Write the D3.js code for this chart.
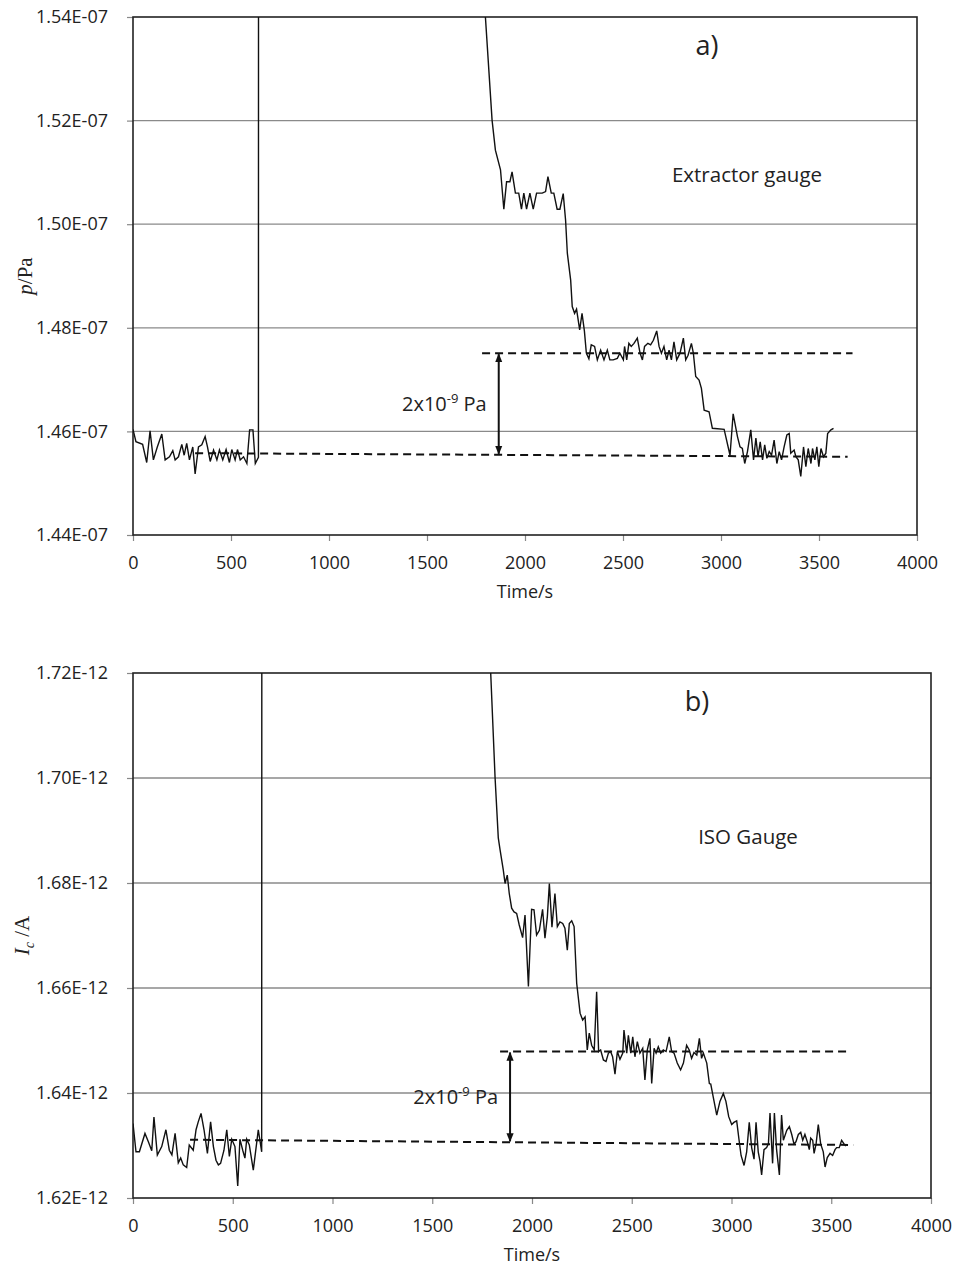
<!DOCTYPE html>
<html>
<head>
<meta charset="utf-8">
<script src="https://cdn.jsdelivr.net/npm/d3@7"></script>
<style>
  body { margin: 0; background: #fff; }
  svg text { font-family: "Open Sans", "Noto Sans", sans-serif; fill: #222; }
  .serif { font-family: "Liberation Serif", "DejaVu Serif", serif; }
</style>
</head>
<body>
<script>
// ---- data ----
// panel a) extractor gauge, pressure in units of 1e-7 Pa
var timeA = [0, 15, 49, 70, 87, 104, 124, 147, 164, 186, 203, 215, 232, 249, 261, 274, 288, 305, 317, 334,
  351, 368, 380, 394, 411, 428, 441, 458, 475, 492, 504, 521, 533, 547, 564, 581, 595, 612, 624, 640, 646,
  1785, 1798, 1832, 1849, 1875, 1892, 1906, 1923, 1934, 1951, 1968, 1982, 1994, 2008, 2025, 2042, 2059, 2071,
  2088, 2105, 2117, 2134, 2147, 2164, 2178, 2195, 2207, 2216, 2233, 2241, 2253, 2263, 2279, 2291, 2303, 2313,
  2326, 2338, 2355, 2369, 2386, 2403, 2420, 2433, 2450, 2471, 2484, 2502, 2508, 2519, 2530, 2542, 2556, 2573,
  2587, 2599, 2610, 2627, 2641, 2655, 2672, 2684, 2696, 2709, 2723, 2735, 2747, 2760, 2774, 2791, 2808, 2820,
  2832, 2849, 2859, 2871, 2888, 2900, 2914, 2939, 2956, 3016, 3046, 3062, 3084, 3097, 3109, 3121, 3135, 3152,
  3166, 3178, 3189, 3200, 3212, 3223, 3234, 3246, 3258, 3271, 3285, 3297, 3309, 3322, 3336, 3348, 3356, 3373,
  3382, 3394, 3407, 3421, 3433, 3445, 3459, 3467, 3479, 3489, 3499, 3510, 3523, 3535, 3544, 3561, 3574];
var pressureA = [1.4604, 1.4580, 1.4575, 1.4540, 1.4601, 1.4545, 1.4570, 1.4595, 1.4545, 1.4551, 1.4563, 1.4545,
  1.4551, 1.4575, 1.4554, 1.4577, 1.4545, 1.4570, 1.4518, 1.4570, 1.4574, 1.4590, 1.4570, 1.4542, 1.4564,
  1.4545, 1.4564, 1.4545, 1.4565, 1.4540, 1.4565, 1.4545, 1.4565, 1.4545, 1.4551, 1.4538, 1.4603, 1.4603,
  1.4538, 1.4550, 3.0,
  3.0, 1.54, 1.5201, 1.5143, 1.5105, 1.5029, 1.5082, 1.5082, 1.5101, 1.5060, 1.5060, 1.5029, 1.5060, 1.5029,
  1.5060, 1.5029, 1.5060, 1.5060, 1.5060, 1.5063, 1.5092, 1.5060, 1.5060, 1.5029, 1.5029, 1.5059, 1.5008,
  1.4944, 1.4892, 1.4841, 1.4828, 1.4836, 1.4796, 1.4828, 1.4794, 1.4751,
  1.4740, 1.4767, 1.4764, 1.4738, 1.4757, 1.4738, 1.4757, 1.4738, 1.4738, 1.4741, 1.4751, 1.4738, 1.4764,
  1.4738, 1.4770, 1.4764, 1.4770, 1.4780, 1.4751, 1.4738, 1.4764, 1.4770, 1.4767, 1.4776, 1.4794, 1.4764,
  1.4751, 1.4764, 1.4738, 1.4757, 1.4738, 1.4773, 1.4738, 1.4751, 1.4780, 1.4738, 1.4747, 1.4770, 1.4751,
  1.4706, 1.4699, 1.4683, 1.4641, 1.4638, 1.4606, 1.4604, 1.4554, 1.4634, 1.4590, 1.4570, 1.4567, 1.4538,
  1.4561, 1.4603, 1.4545, 1.4587, 1.4551, 1.4580, 1.4545, 1.4574, 1.4548, 1.4561, 1.4554, 1.4583, 1.4538,
  1.4561, 1.4545, 1.4570, 1.4593, 1.4596, 1.4558, 1.4564, 1.4551, 1.4545, 1.4513, 1.4570, 1.4532, 1.4567,
  1.4538, 1.4567, 1.4545, 1.4570, 1.4532, 1.4567, 1.4551, 1.4558, 1.4596, 1.4603, 1.4606];

// panel b) ISO gauge collector current, units of 1e-12 A
var timeB = [0, 15, 32, 60, 77, 94, 105, 122, 144, 165, 182, 195, 211, 227, 239, 252, 269, 282, 302, 316, 327,
  341, 356, 373, 389, 403, 416, 428, 439, 456, 470, 483, 495, 511, 525, 536, 550, 561, 570, 583, 603, 628, 645,
  655, 1785, 1793, 1815, 1831, 1840, 1856, 1865, 1876, 1886, 1898, 1910, 1923, 1936, 1953, 1965, 1982, 1998,
  2010, 2023, 2037, 2053, 2065, 2077, 2087, 2100, 2115, 2127, 2140, 2154, 2165, 2177, 2187, 2199, 2211, 2224,
  2241, 2254, 2266, 2277, 2287, 2299, 2312, 2324, 2334, 2344, 2358, 2371, 2383, 2394, 2404, 2416, 2428, 2441,
  2455, 2461, 2475, 2483, 2495, 2505, 2516, 2528, 2541, 2555, 2566, 2578, 2591, 2600, 2612, 2622, 2633, 2645,
  2658, 2672, 2688, 2700, 2712, 2728, 2745, 2759, 2775, 2788, 2800, 2812, 2826, 2839, 2850, 2859, 2876, 2889,
  2896, 2909, 2926, 2942, 2959, 2972, 2986, 3001, 3012, 3026, 3038, 3048, 3063, 3076, 3089, 3101, 3113, 3123,
  3134, 3143, 3151, 3163, 3176, 3185, 3193, 3206, 3215, 3226, 3240, 3251, 3260, 3277, 3290, 3302, 3313, 3323,
  3335, 3347, 3357, 3368, 3380, 3390, 3397, 3407, 3414, 3424, 3435, 3447, 3460, 3469, 3480, 3494, 3507, 3519,
  3527, 3540, 3552, 3564, 3574];
var currentB = [1.6342, 1.6288, 1.6288, 1.6323, 1.6307, 1.6290, 1.6354, 1.6282, 1.6298, 1.6330, 1.6291, 1.6282,
  1.6323, 1.6267, 1.6276, 1.6263, 1.6258, 1.6301, 1.6291, 1.6330, 1.6345, 1.6361, 1.6330, 1.6285, 1.6345,
  1.6298, 1.6272, 1.6263, 1.6266, 1.6291, 1.6330, 1.6279, 1.6312, 1.6298, 1.6223, 1.6312, 1.6291, 1.6276,
  1.6312, 1.6301, 1.6253, 1.6330, 1.6288,
  3.0, 3.0, 1.72, 1.70, 1.6886, 1.6863, 1.6825, 1.6799, 1.6815, 1.6780, 1.6752, 1.6745, 1.6742, 1.6720, 1.6696,
  1.6739, 1.6603, 1.6750, 1.6749, 1.6701, 1.6710, 1.6750, 1.6695, 1.6736, 1.6799, 1.6716, 1.6780, 1.6717,
  1.6726, 1.6723, 1.6714, 1.6672, 1.6723, 1.6728, 1.6717, 1.6609, 1.6552, 1.6539, 1.6545, 1.6482, 1.6514,
  1.6491, 1.6482, 1.6593, 1.6479, 1.6482, 1.6463, 1.6460, 1.6476, 1.6479, 1.6469, 1.6436, 1.6479, 1.6464,
  1.6476, 1.6520, 1.6476, 1.6510, 1.6476, 1.6507, 1.6469, 1.6498, 1.6476, 1.6485, 1.6425, 1.6482, 1.6504,
  1.6418, 1.6485, 1.6476, 1.6488, 1.6476, 1.6482, 1.6479, 1.6507, 1.6479, 1.6476, 1.6457, 1.6444, 1.6457,
  1.6491, 1.6482, 1.6466, 1.6477, 1.6472, 1.6504, 1.6466, 1.6476, 1.6457, 1.6418, 1.6417, 1.6391, 1.6358,
  1.6384, 1.6399, 1.6384, 1.6355, 1.6340, 1.6344, 1.6347, 1.6310, 1.6281, 1.6262, 1.6288, 1.6344, 1.6296,
  1.6274, 1.6344, 1.6288, 1.6270, 1.6244, 1.6292, 1.6296, 1.6303, 1.6362, 1.6266, 1.6362, 1.6292, 1.6244,
  1.6358, 1.6310, 1.6329, 1.6336, 1.6321, 1.6303, 1.6307, 1.6321, 1.6325, 1.6310, 1.6321, 1.6307, 1.6292,
  1.6314, 1.6310, 1.6285, 1.6303, 1.6340, 1.6303, 1.6288, 1.6259, 1.6277, 1.6285, 1.6281, 1.6292, 1.6296,
  1.6296, 1.6310, 1.6303, 1.6299];

// dashed reference levels [time, value] and arrow time
var baseLevelA = [[317, 1.4558], [3646, 1.4551]];
var stepLevelA = [[1781, 1.4751], [3671, 1.4751]];
var arrowTimeA = 1866;
var baseLevelB = [[286, 1.6311], [3610, 1.6301]];
var stepLevelB = [[1840, 1.6479], [3593, 1.6479]];
var arrowTimeB = 1890;

var xTicks = [0, 500, 1000, 1500, 2000, 2500, 3000, 3500, 4000];
var yTicksA = [1.44, 1.46, 1.48, 1.50, 1.52, 1.54];
var yTicksB = [1.62, 1.64, 1.66, 1.68, 1.70, 1.72];

var W = 955, H = 1267;
var svg = d3.select("body").append("svg").attr("width", W).attr("height", H);

var defs = svg.append("defs");
defs.append("marker").attr("id", "arrowhead")
  .attr("viewBox", "0 0 10 10").attr("refX", 9).attr("refY", 5)
  .attr("markerWidth", 9).attr("markerHeight", 9).attr("markerUnits", "userSpaceOnUse")
  .attr("orient", "auto-start-reverse")
  .append("path").attr("d", "M0,1 L10,5 L0,9 Z").attr("fill", "#111");

function drawPanel(p) {
  var x = d3.scaleLinear().domain([0, 4000]).range([p.left, p.right]);
  var y = d3.scaleLinear().domain([p.yTicks[0], p.yTicks[p.yTicks.length - 1]]).range([p.bottom, p.top]);
  var g = svg.append("g");

  // horizontal gridlines
  g.selectAll("line.grid").data(p.yTicks.slice(1, -1)).enter().append("line")
    .attr("x1", p.left).attr("x2", p.right)
    .attr("y1", function (d) { return y(d); }).attr("y2", function (d) { return y(d); })
    .attr("stroke", "#8a8a8a").attr("stroke-width", 1.3);

  // axes
  var yAxis = d3.axisLeft(y).tickValues(p.yTicks).tickSize(6).tickPadding(19)
    .tickFormat(function (d) { return d.toFixed(2) + p.exp; });
  var ya = g.append("g").attr("transform", "translate(" + p.left + ",0)").call(yAxis);
  var xAxis = d3.axisBottom(x).tickValues(xTicks).tickSize(6).tickPadding(15)
    .tickFormat(d3.format("d"));
  var xa = g.append("g").attr("transform", "translate(0," + p.bottom + ")").call(xAxis);
  [ya, xa].forEach(function (a) {
    a.select(".domain").remove();
    a.selectAll(".tick line").attr("stroke", "#888").attr("stroke-width", 1.2);
    a.selectAll("text").attr("font-size", 18).attr("fill", "#222")
      .style("font-family", '"Open Sans", sans-serif');
  });

  // frame
  g.append("rect").attr("x", p.left).attr("y", p.top)
    .attr("width", p.right - p.left).attr("height", p.bottom - p.top)
    .attr("fill", "none").attr("stroke", "#222").attr("stroke-width", 1.6);

  // data line, clipped to plot area
  var clipId = "clip" + p.id;
  defs.append("clipPath").attr("id", clipId).append("rect")
    .attr("x", p.left).attr("y", p.top).attr("width", p.right - p.left).attr("height", p.bottom - p.top);
  var pts = p.t.map(function (t, i) { return [t, p.v[i]]; });
  var line = d3.line().x(function (d) { return x(d[0]); }).y(function (d) { return y(d[1]); });
  g.append("path").datum(pts).attr("clip-path", "url(#" + clipId + ")")
    .attr("d", line).attr("fill", "none").attr("stroke", "#111").attr("stroke-width", 1.4)
    .attr("stroke-linejoin", "miter");

  // dashed level lines
  [p.base, p.step].forEach(function (lv) {
    g.append("path").datum(lv).attr("d", line).attr("fill", "none")
      .attr("stroke", "#111").attr("stroke-width", 2).attr("stroke-dasharray", "8,5");
  });

  // double arrow
  var yTop = y(p.step[0][1]), yBot = y(p.base[0][1] + (p.base[1][1] - p.base[0][1]) *
    (p.arrowT - p.base[0][0]) / (p.base[1][0] - p.base[0][0]));
  g.append("line").attr("x1", x(p.arrowT)).attr("x2", x(p.arrowT))
    .attr("y1", yTop + 1).attr("y2", yBot - 1)
    .attr("stroke", "#111").attr("stroke-width", 2)
    .attr("marker-start", "url(#arrowhead)").attr("marker-end", "url(#arrowhead)");

  // annotation "2x10^-9 Pa"
  var lab = g.append("text").attr("x", x(p.arrowT) - 12).attr("y", (yTop + yBot) / 2 + 7)
    .attr("text-anchor", "end").attr("font-size", 20);
  lab.append("tspan").text("2x10");
  lab.append("tspan").attr("font-size", 13).attr("dy", -8).text("-9");
  lab.append("tspan").attr("dy", 8).text(" Pa");

  // panel letter and gauge name
  g.append("text").attr("x", p.letterX).attr("y", p.top + 38).attr("text-anchor", "middle")
    .attr("font-size", 27).text(p.letter);
  g.append("text").attr("x", p.nameX).attr("y", p.nameY).attr("text-anchor", "middle")
    .attr("font-size", 20.5).text(p.name);

  // x title
  g.append("text").attr("x", (p.left + p.right) / 2).attr("y", p.bottom + 63)
    .attr("text-anchor", "middle").attr("font-size", 18).text("Time/s");

  // y title
  var yt = g.append("text").attr("class", "serif")
    .attr("transform", "translate(" + p.yTitleX + "," + (p.top + p.bottom) / 2 + ") rotate(-90)")
    .attr("text-anchor", "middle").attr("font-size", 21);
  p.yTitle(yt);
}

drawPanel({
  id: "A", left: 133, right: 917, top: 17, bottom: 535,
  yTicks: yTicksA, exp: "E-07", t: timeA, v: pressureA,
  base: baseLevelA, step: stepLevelA, arrowT: arrowTimeA,
  letter: "a)", letterX: 707, name: "Extractor gauge", nameX: 747, nameY: 182,
  yTitleX: 32,
  yTitle: function (t) {
    t.append("tspan").attr("font-style", "italic").text("p");
    t.append("tspan").text("/Pa");
  }
});

drawPanel({
  id: "B", left: 133, right: 931, top: 673, bottom: 1198,
  yTicks: yTicksB, exp: "E-12", t: timeB, v: currentB,
  base: baseLevelB, step: stepLevelB, arrowT: arrowTimeB,
  letter: "b)", letterX: 697, name: "ISO Gauge", nameX: 748, nameY: 844,
  yTitleX: 29,
  yTitle: function (t) {
    t.append("tspan").attr("font-style", "italic").text("I");
    t.append("tspan").attr("font-style", "italic").attr("font-size", 14).attr("dy", 5).text("c");
    t.append("tspan").attr("dy", -5).text(" /A");
  }
});
</script>
</body>
</html>
